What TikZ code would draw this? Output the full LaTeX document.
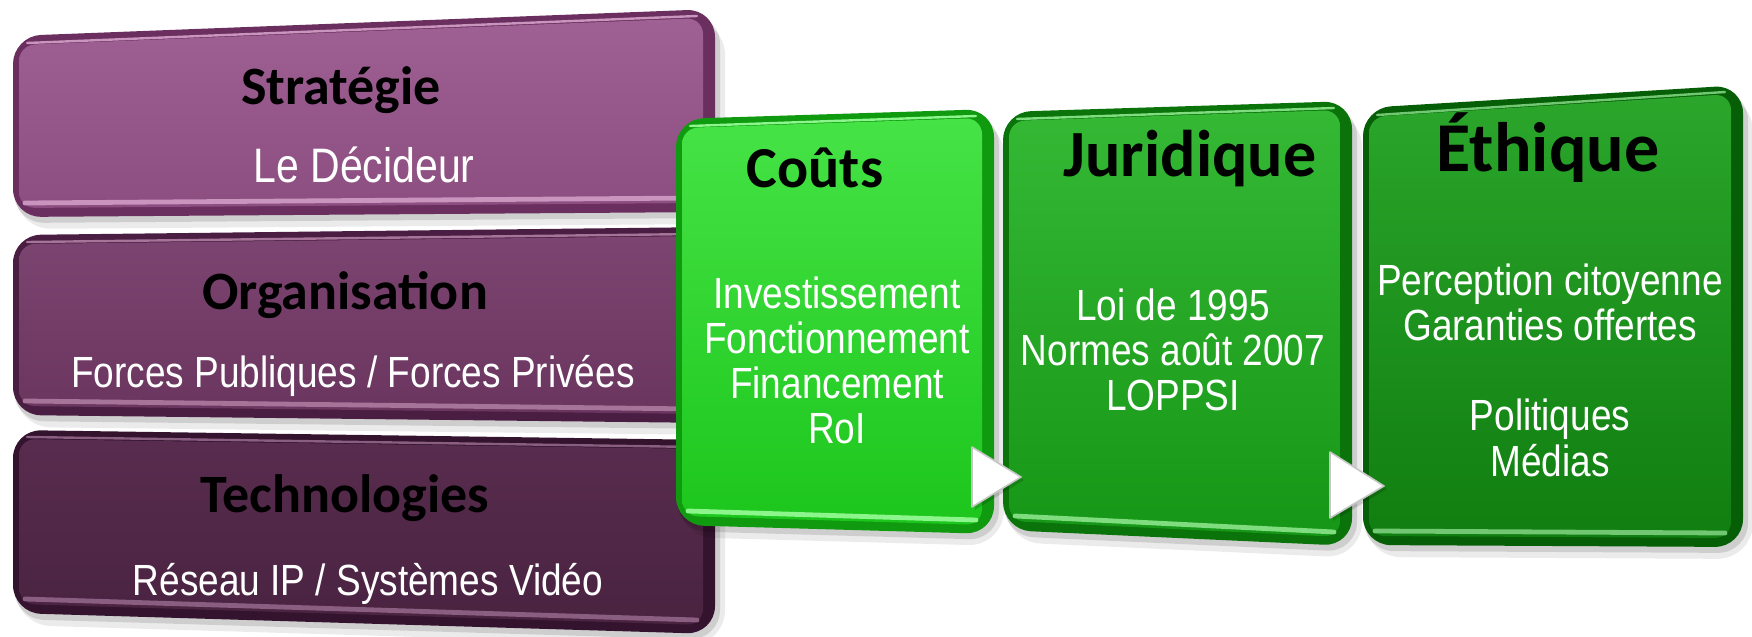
\documentclass[tikz,border=0pt]{standalone}
\usepackage{fontspec}
\usepackage{graphicx}
\setmainfont{Liberation Sans}
\newfontfamily\ttlfont{Carlito}
\usetikzlibrary{calc}

\definecolor{pA}{HTML}{9F6093}\definecolor{pAb}{HTML}{8C4E80}\definecolor{pArim}{HTML}{6A2F5E}\definecolor{pAhi}{HTML}{C994BD}
\definecolor{pB}{HTML}{7C4571}\definecolor{pBb}{HTML}{6A355F}\definecolor{pBrim}{HTML}{4A1D42}\definecolor{pBhi}{HTML}{A77499}
\definecolor{pC}{HTML}{582C4E}\definecolor{pCb}{HTML}{4A2341}\definecolor{pCrim}{HTML}{33132D}\definecolor{pChi}{HTML}{8A5E80}
\definecolor{gA}{HTML}{46E346}\definecolor{gAb}{HTML}{1CC61C}\definecolor{gArim}{HTML}{0F9A0F}\definecolor{gAhi}{HTML}{8CF58C}
\definecolor{gB}{HTML}{35B935}\definecolor{gBb}{HTML}{169616}\definecolor{gBrim}{HTML}{0A730A}\definecolor{gBhi}{HTML}{7FDC7F}
\definecolor{gC}{HTML}{2BA62B}\definecolor{gCb}{HTML}{107E10}\definecolor{gCrim}{HTML}{065E06}\definecolor{gChi}{HTML}{72C872}

% #1 TL, #2 TR, #3 BR, #4 BL, #5 rim, #6 top, #7 bottom, #8 highlight
\newcommand\bevelbox[8]{%
  \fill[black,opacity=0.08,rounded corners=18] ($#1+(2,10)$) -- ($#2+(10,10)$) -- ($#3+(10,12)$) -- ($#4+(2,12)$) -- cycle;
  \fill[black,opacity=0.12,rounded corners=15] ($#1+(1,5)$) -- ($#2+(5,5)$) -- ($#3+(5,6)$) -- ($#4+(1,6)$) -- cycle;
  \fill[#5,rounded corners=14] #1 -- #2 -- #3 -- #4 -- cycle;
  \shade[top color=#6,bottom color=#7,rounded corners=8] ($#1+(6,9)$) -- ($#2+(-12,9)$) -- ($#3+(-12,-9)$) -- ($#4+(6,-9)$) -- cycle;
  \draw[#8,line width=1.2,line cap=round] ($#1+(14,7)$) -- ($#2+(-18,7)$);
  \draw[#8,line width=2.4,line cap=round] ($#4+(12,-14)$) -- ($#3+(-18,-14)$);
}
\newcommand\tallt[1]{\scalebox{1}[1.18]{\begin{tabular}{@{}c@{}}#1\end{tabular}}}

\tikzset{
  ttl/.style={font=\ttlfont\bfseries\fontsize{27}{30}\selectfont, text=black, inner sep=0pt},
  sub/.style={font=\fontsize{18.5}{19}\selectfont, text=white, inner sep=0pt},
  tri/.style={fill=white, draw=gray!45, line width=0.8, line join=round}
}

\begin{document}
\begin{tikzpicture}[x=0.5pt,y=-0.5pt]
\useasboundingbox (0,0) rectangle (1752,637);

% purple boxes
\bevelbox{(13,36)}{(715,9)}{(715,212)}{(13,217)}{pArim}{pA}{pAb}{pAhi}
\bevelbox{(13,235)}{(715,227)}{(715,423)}{(13,415)}{pBrim}{pB}{pBb}{pBhi}
\bevelbox{(13,430)}{(715,440)}{(715,634)}{(13,613)}{pCrim}{pC}{pCb}{pChi}

\node[ttl] (strat) at (341,90) {Stratégie};
\node[sub,font=\fontsize{20.5}{21}\selectfont] (decid) at (364,172) {\tallt{Le Décideur}};
\node[ttl] (orga) at (345,295) {Organisation};
\node[sub] (forces) at (353,378) {\tallt{Forces Publiques / Forces Privées}};
\node[ttl] (techno) at (345,498) {Technologies};
\node[sub] (reseau) at (368,586) {\tallt{Réseau IP / Systèmes Vidéo}};

% green boxes
\bevelbox{(676,119)}{(994,109)}{(994,534)}{(676,525)}{gArim}{gA}{gAb}{gAhi}
\bevelbox{(1003,112)}{(1352,101)}{(1352,546)}{(1003,530)}{gBrim}{gB}{gBb}{gBhi}
\bevelbox{(1363,108)}{(1743,85)}{(1743,547)}{(1363,545)}{gCrim}{gC}{gCb}{gChi}

\node[ttl,font=\ttlfont\bfseries\fontsize{29}{32}\selectfont] (couts) at (815,168) {Coûts};
\node[ttl,font=\ttlfont\bfseries\fontsize{33}{36}\selectfont] (jur) at (1190,159) {Juridique};
\node[ttl,font=\ttlfont\bfseries\fontsize{35}{38}\selectfont] (eth) at (1548,148) {Éthique};

\node[sub] (coutstxt) at (837,367) {\tallt{Investissement\\Fonctionnement\\Financement\\RoI}};
\node[sub] (jurtxt) at (1173,356) {\tallt{Loi de 1995\\Normes août 2007\\LOPPSI}};
\node[sub] (ethtxt) at (1550,377) {\tallt{Perception citoyenne\\Garanties offertes\\ \\Politiques\\Médias}};

% arrow markers
\coordinate (a1a) at (972,447); \coordinate (a1b) at (1021,477); \coordinate (a1c) at (972,507);
\coordinate (a2a) at (1330,452); \coordinate (a2b) at (1384,486); \coordinate (a2c) at (1330,518);
\fill[black,opacity=0.15] ($(a1a)+(3,3)$) -- ($(a1b)+(3,3)$) -- ($(a1c)+(3,3)$) -- cycle;
\fill[black,opacity=0.15] ($(a2a)+(3,3)$) -- ($(a2b)+(3,3)$) -- ($(a2c)+(3,3)$) -- cycle;
\draw[tri] (a1a) -- (a1b) -- (a1c) -- cycle;
\draw[tri] (a2a) -- (a2b) -- (a2c) -- cycle;
\end{tikzpicture}
\end{document}
